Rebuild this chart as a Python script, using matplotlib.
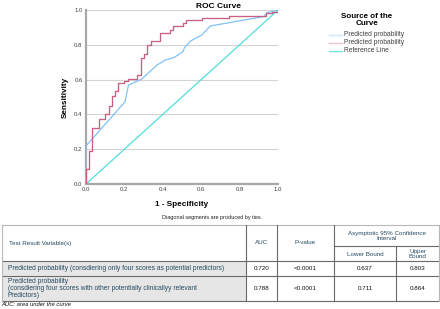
import matplotlib
matplotlib.use("Agg")
import matplotlib.pyplot as plt
from matplotlib.patches import Rectangle

plt.rcParams['font.family'] = ['Liberation Sans', 'DejaVu Sans']

# ---- ROC data ----
blue_fpr = [0, 0, 0.203, 0.221, 0.29, 0.369, 0.412, 0.459, 0.504, 0.513, 0.543,
            0.603, 0.647, 0.873, 0.925, 0.943, 1.0]
blue_tpr = [0, 0.219, 0.472, 0.568, 0.603, 0.683, 0.712, 0.727, 0.76, 0.783, 0.821,
            0.856, 0.908, 0.952, 0.962, 0.985, 1.0]

red_fpr = [0, 0, 0.017, 0.033, 0.066, 0.1, 0.118, 0.134, 0.151, 0.169, 0.198, 0.217,
           0.268, 0.285, 0.303, 0.318, 0.336, 0.386, 0.437, 0.452, 0.504, 0.522,
           0.605, 0.744, 0.937, 0.969, 1.0]
red_tpr = [0, 0.084, 0.19, 0.324, 0.372, 0.40, 0.447, 0.505, 0.534, 0.578, 0.591, 0.603,
           0.626, 0.724, 0.75, 0.798, 0.821, 0.869, 0.885, 0.906, 0.927, 0.94,
           0.956, 0.967, 0.985, 0.99, 1.0]

ref_x = [0, 1]
ref_y = [0, 1]

series_labels = ["Predicted probability", "Predicted probability", "Reference Line"]
ticks = [0.0, 0.2, 0.4, 0.6, 0.8, 1.0]
tick_labels = ["0.0", "0.2", "0.4", "0.6", "0.8", "1.0"]

# ---- table data ----
header_var = "Test Result Variable(s)"
header_auc = "AUC"
header_p = "P-value"
header_ci = "Asymptotic 95% Confidence\nInterval"
header_lower = "Lower Bound"
header_upper = "Upper\nBound"
row_labels = ["Predicted probability (consdiering only four scores as potential predictors)",
              "Predicted probability\n(consdiering four scores with other potentially clinicallyy relevant\nPredictors)"]
auc_vals = ["0.720", "0.788"]
p_vals = ["<0.0001", "<0.0001"]
lower_vals = ["0.637", "0.711"]
upper_vals = ["0.803", "0.864"]

W, H = 440, 309
fig = plt.figure(figsize=(W / 100, H / 100), dpi=100)

def fx(px):
    return px / W

def fy(py):
    return 1 - py / H

ax = fig.add_axes([fx(86), fy(184), fx(278) - fx(86), fy(10) - fy(184)])
ax.plot(ref_x, ref_y, color="#52dcdc", lw=0.9, zorder=2)
ax.plot(blue_fpr, blue_tpr, color="#7fc2f8", lw=0.9, zorder=3)
ax.step(red_fpr, red_tpr, where="post", color="#c9607f", lw=0.95, zorder=4)
ax.set_xlim(0, 1)
ax.set_ylim(0, 1)
ax.set_xticks(ticks)
ax.set_xticklabels(tick_labels)
ax.set_yticks(ticks)
ax.set_yticklabels(tick_labels)
ax.tick_params(length=0, labelsize=4.3, colors="#404040", pad=2.5)
ax.yaxis.grid(True, color="#d4d4d4", lw=0.8)
ax.set_axisbelow(True)
for s in ["top", "right"]:
    ax.spines[s].set_visible(False)
for s in ["left", "bottom"]:
    ax.spines[s].set_color("#a8a8a8")
    ax.spines[s].set_linewidth(1.6)
ax.set_xlabel("1 - Specificity", fontsize=5.9, fontweight="bold", labelpad=6)
ax.set_ylabel("Sensitivity", fontsize=5.9, fontweight="bold", labelpad=4)

fig.text(fx(218), fy(6), "ROC Curve", ha="center", va="center", fontsize=6, fontweight="bold")

# legend
fig.text(fx(367), fy(20), "Source of the\nCurve", ha="center", va="center", fontsize=5.8,
         fontweight="bold", linespacing=0.95)
leg_colors = ["#cce6fb", "#ecc4d2", "#6fe4e0"]
leg_y = [35, 43, 51]
for lab, c, yy in zip(series_labels, leg_colors, leg_y):
    fig.add_artist(plt.Line2D([fx(329), fx(342)], [fy(yy), fy(yy)], color=c, lw=1.0))
    fig.text(fx(343.5), fy(yy), lab, ha="left", va="center", fontsize=4.8, color="#404040")

fig.text(fx(212), fy(217), "Diagonal segments are produced by ties.", ha="center", va="center",
         fontsize=4.0, color="#222222")

# ---- table ----
tax = fig.add_axes([0, 0, 1, 1])
tax.set_xlim(0, W)
tax.set_ylim(H, 0)
tax.axis("off")

xl, xa, xp, xlo, xup, xr = 2, 246, 277, 334, 396, 439
yt, ysplit, yh, y1, y2 = 225, 246, 261, 276, 301

tax.add_patch(Rectangle((xl, yh), xa - xl, y2 - yh, facecolor="#e6e6e6", edgecolor="none", zorder=1))

dark = "#6a6a6a"
light = "#b8b8b8"
lw = 0.8
tax.plot([xl, xr], [yt, yt], color=light, lw=lw, zorder=2)
tax.plot([xlo, xr], [ysplit, ysplit], color=dark, lw=lw, zorder=2)
tax.plot([xl, xr], [yh, yh], color=dark, lw=lw, zorder=2)
tax.plot([xl, xr], [y1, y1], color=dark, lw=lw, zorder=2)
tax.plot([xl, xr], [y2, y2], color=dark, lw=lw, zorder=2)
tax.plot([xl, xl], [yt, y2], color=light, lw=lw, zorder=2)
tax.plot([xr, xr], [yt, y2], color=light, lw=lw, zorder=2)
for xv in [xa, xp, xlo]:
    tax.plot([xv, xv], [yt, y2], color=dark, lw=lw, zorder=2)
tax.plot([xup, xup], [ysplit, y2], color=dark, lw=lw, zorder=2)

hc = "#264a60"
fs = 4.8
fh = 4.5
fv = 4.5
tax.text(xl + 7, (yt + yh) / 2, header_var, ha="left", va="center", fontsize=fh, color=hc)
tax.text((xa + xp) / 2, (yt + yh) / 2, header_auc, ha="center", va="center", fontsize=fh, color=hc)
tax.text((xp + xlo) / 2, (yt + yh) / 2, header_p, ha="center", va="center", fontsize=fh, color=hc)
tax.text((xlo + xr) / 2, (yt + ysplit) / 2 + 0.5, header_ci, ha="center", va="center", fontsize=fh,
         color=hc, linespacing=1.0)
tax.text((xlo + xup) / 2, (ysplit + yh) / 2 + 0.5, header_lower, ha="center", va="center",
         fontsize=fh, color=hc)
tax.text((xup + xr) / 2, (ysplit + yh) / 2 + 0.5, header_upper, ha="center", va="center",
         fontsize=fh, color=hc, linespacing=1.0)

row_y = [(yh + y1) / 2, (y1 + y2) / 2]
for i in range(2):
    tax.text(xl + 6, row_y[i], row_labels[i], ha="left", va="center", fontsize=fs, color=hc,
             linespacing=0.95, zorder=3)
    tax.text((xa + xp) / 2, row_y[i], auc_vals[i], ha="center", va="center", fontsize=fv, color="#111111")
    tax.text((xp + xlo) / 2, row_y[i], p_vals[i], ha="center", va="center", fontsize=fv, color="#111111")
    tax.text((xlo + xup) / 2, row_y[i], lower_vals[i], ha="center", va="center", fontsize=fv, color="#111111")
    tax.text((xup + xr) / 2, row_y[i], upper_vals[i], ha="center", va="center", fontsize=fv, color="#111111")

tax.text(1, 304.5, "AUC: area under the curve", ha="left", va="center", fontsize=4.2,
         style="italic", color="#111111")

fig.savefig("out.png", dpi=100)
